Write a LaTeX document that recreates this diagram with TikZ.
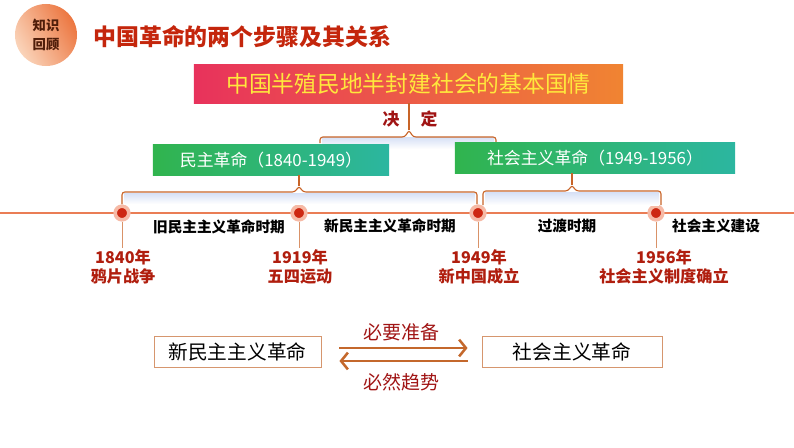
\documentclass[tikz,border=0pt]{standalone}
\usepackage{fontspec}
\newfontfamily\cjk{Noto Sans CJK SC}
\usetikzlibrary{arrows.meta, calc}

\definecolor{titlered}{RGB}{196,38,12}
\definecolor{bannerl}{RGB}{232,50,92}
\definecolor{bannerr}{RGB}{240,132,50}
\definecolor{bannertxt}{RGB}{255,232,60}
\definecolor{greenl}{RGB}{48,180,78}
\definecolor{greenr}{RGB}{44,182,160}
\definecolor{braceorange}{RGB}{200,100,40}
\definecolor{glow}{RGB}{214,224,246}
\definecolor{lineorange}{RGB}{234,125,85}
\definecolor{dotred}{RGB}{205,40,18}
\definecolor{halo}{RGB}{246,186,166}
\definecolor{datered}{RGB}{176,30,14}
\definecolor{arrowbrown}{RGB}{196,104,44}
\definecolor{labelred}{RGB}{160,20,20}
\definecolor{boxline}{RGB}{214,150,110}

\begin{document}
\begin{tikzpicture}[x=0.025cm, y=-0.025cm,
    greenbox/.style={left color=greenl, right color=greenr, minimum height=0.75cm,
        inner sep=0, text=white, font=\cjk\fontsize{12}{12}\selectfont},
    brace/.style={draw=braceorange, line width=0.8pt, rounded corners=2pt},
    dot/.style={circle, fill=dotred, draw=halo, line width=0.09cm, minimum size=0.34cm, inner sep=0},
    period/.style={inner sep=0, font=\cjk\bfseries\fontsize{10.4}{12}\selectfont},
    date/.style={inner sep=0, align=center, text=datered, font=\cjk\bfseries\fontsize{11.5}{13.5}\selectfont},
    stepbox/.style={draw=boxline, line width=0.6pt, minimum height=0.775cm, inner sep=0,
        font=\cjk\fontsize{14}{14}\selectfont},
    relarrow/.style={draw=arrowbrown, line width=1.8pt, -{Straight Barb[length=0.17cm, width=0.42cm]}},
    rellabel/.style={inner sep=0, text=labelred, font=\cjk\fontsize{13.5}{13.5}\selectfont}]

    \useasboundingbox (0,0) rectangle (794,447);

    % heading
    \node[circle, minimum size=1.55cm, inner sep=0, left color={rgb,255:red,236;green,118;blue,64},
        right color={rgb,255:red,250;green,212;blue,186}, shading angle=-60] (badge) at (46,35) {};
    \node[align=center, inner sep=0, text={rgb,255:red,80;green,30;blue,10},
        font=\cjk\bfseries\fontsize{9.5}{13}\selectfont] (badgetxt) at (badge) {知识\\回顾};
    \node[anchor=west, inner sep=0, text=titlered, font=\cjk\bfseries\fontsize{16.3}{18}\selectfont]
        (title) at (93,37) {中国革命的两个步骤及其关系};

    % basic condition
    \node[left color=bannerl, right color=bannerr, minimum width=10.725cm, minimum height=0.95cm,
        inner sep=0, text=bannertxt, font=\cjk\fontsize{16.2}{16}\selectfont] (banner) at (408.5,84)
        {中国半殖民地半封建社会的基本国情};

    \coordinate (b1l) at (320,143);
    \coordinate (b1r) at (496,143);
    \coordinate (b1tip) at (409,130);
    \fill[top color=glow, bottom color=white] (322,137) rectangle (494,149);
    \draw[brace] (b1l) |- ($(b1tip)+(-4,7)$) -- (b1tip) -- ($(b1tip)+(4,7)$) -| (b1r);
    \draw[brace] (b1tip) -- (b1tip |- banner.south);
    \node[inner sep=0, text=labelred, font=\cjk\bfseries\fontsize{12}{12}\selectfont] (jue) at (391,119) {决};
    \node[inner sep=0, text=labelred, font=\cjk\bfseries\fontsize{12}{12}\selectfont] (ding) at (429,119) {定};

    % two revolutions
    \node[greenbox, minimum width=5.9cm] (demrev) at (271,160) {民主革命（1840-1949）};
    \node[greenbox, minimum width=7cm] (socrev) at (595,158) {社会主义革命（1949-1956）};

    % timeline
    \coordinate (tl-l) at (0,213);
    \coordinate (tl-r) at (794,213);
    \draw[draw=lineorange, line width=1.2pt] (tl-l) -- (tl-r);

    \node[dot] (d1) at (122,213) {};
    \node[dot] (d2) at (299,213) {};
    \node[dot] (d3) at (478,213) {};
    \node[dot] (d4) at (656,213) {};
    \foreach \d in {d1,d2,d3,d4}
        \draw[draw=braceorange!70, line width=0.5pt] (\d.south) -- ++(0,26);

    \coordinate (b2l) at (122,204);
    \coordinate (b2r) at (477,204);
    \coordinate (b2tip) at (299,186);
    \fill[top color=glow, bottom color=white] (124,193) rectangle (475,204);
    \draw[brace] (b2l) |- ($(b2tip)+(-4,6)$) -- (b2tip) -- ($(b2tip)+(4,6)$) -| (b2r);
    \draw[brace] (b2tip) -- (b2tip |- demrev.south);

    \coordinate (b3l) at (483,205);
    \coordinate (b3r) at (661,205);
    \coordinate (b3tip) at (572,185);
    \fill[top color=glow, bottom color=white] (485,192) rectangle (659,205);
    \draw[brace] (b3l) |- ($(b3tip)+(-4,6)$) -- (b3tip) -- ($(b3tip)+(4,6)$) -| (b3r);
    \draw[brace] (b3tip) -- (b3tip |- socrev.south);

    \node[period] (old) at (219,227) {旧民主主义革命时期};
    \node[period] (new) at (390,226) {新民主主义革命时期};
    \node[period] (trans) at (567,226) {过渡时期};
    \node[period] (build) at (716,226) {社会主义建设};

    \node[date] (y1840) at (123,267) {1840年\\鸦片战争};
    \node[date] (y1919) at (300,267) {1919年\\五四运动};
    \node[date] (y1949) at (479,267) {1949年\\新中国成立};
    \node[date] (y1956) at (664,267) {1956年\\社会主义制度确立};

    % relation
    \node[stepbox, minimum width=4.175cm] (newdem) at (237.5,352) {新民主主义革命};
    \node[stepbox, minimum width=4.5cm] (socrev2) at (572,352) {社会主义革命};

    \draw[relarrow, shorten <=0.45cm, shorten >=0.35cm] ($(newdem.east)+(0,-4)$) -- ($(socrev2.west)+(0,-4)$)
        node[rellabel, midway, above=4pt] (need) {必要准备};
    \draw[relarrow, shorten <=0.35cm, shorten >=0.45cm] ($(socrev2.west)+(0,9)$) -- ($(newdem.east)+(0,9)$)
        node[rellabel, midway, below=8pt] (trend) {必然趋势};
\end{tikzpicture}
\end{document}
